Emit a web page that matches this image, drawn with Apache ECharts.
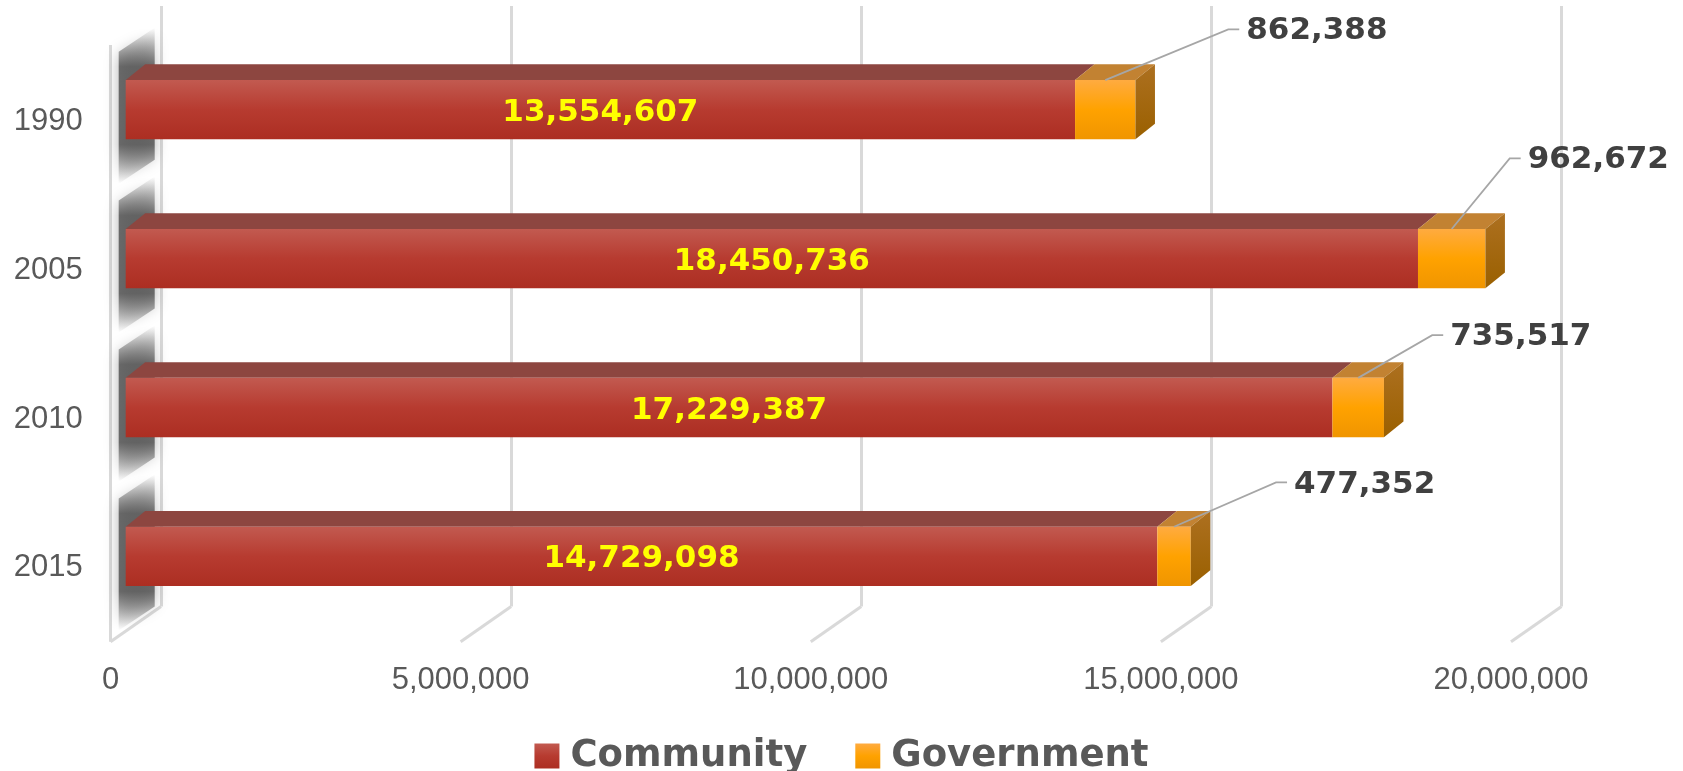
<!DOCTYPE html>
<html>
<head>
<meta charset="utf-8">
<script src="https://cdn.jsdelivr.net/npm/echarts@6/dist/echarts.min.js"></script>
<style>html,body{margin:0;padding:0;background:#fff}#c{width:1683px;height:771px}</style>
</head>
<body>
<div id="c"></div>
<script>
// ---- data ----
const years = ['1990', '2005', '2010', '2015'];
const community = [13554607, 18450736, 17229387, 14729098];
const government = [862388, 962672, 735517, 477352];
const xTicks = [0, 5000000, 10000000, 15000000, 20000000];
const xMin = 0, xMax = 20000000, xInterval = 5000000;

// ---- layout / style ----
const BAR_DEPTH = { dx: 19.5, dy: -15.7 };
const FLOOR = { dx: 50.5, dy: -35.4 };
const BAR_RATIO = 0.398;
const WALL_FRONT_TOP = 45;
const GOV_LABEL_OFF = [[123, -50.7], [58, -70.6], [74, -42.7], [102, -44.3]];
const NUM_FONT = 'DejaVu Sans';
const G = echarts.graphic;

const comFront = new G.LinearGradient(0, 0, 0, 1, [
  { offset: 0, color: '#c25a50' }, { offset: 0.5, color: '#b73b30' }, { offset: 1, color: '#ac2e22' }]);
const govFront = new G.LinearGradient(0, 0, 0, 1, [
  { offset: 0, color: '#ffab40' }, { offset: 0.5, color: '#ffa200' }, { offset: 1, color: '#f09500' }]);
const govSide = new G.LinearGradient(0, 0, 0, 1, [
  { offset: 0, color: '#ad7020' }, { offset: 1, color: '#9a6000' }]);

function barRender(kind) {
  return function (params, api) {
    const cat = api.value(0), s = api.value(1), e = api.value(2), v = api.value(3);
    const a = api.coord([s, cat]), b = api.coord([e, cat]);
    const h = api.size([0, 1])[1] * BAR_RATIO;
    const x0 = a[0], x1 = b[0], yT = a[1] - h / 2, yB = a[1] + h / 2;
    const dx = BAR_DEPTH.dx, dy = BAR_DEPTH.dy;
    const children = [];
    children.push({ type: 'polygon', shape: { points: [[x0, yT], [x1, yT], [x1 + dx, yT + dy], [x0 + dx, yT + dy]] },
      style: { fill: kind === 'com' ? '#8d4640' : '#c28232' } });
    children.push({ type: 'rect', shape: { x: x0, y: yT, width: x1 - x0, height: h },
      style: { fill: kind === 'com' ? comFront : govFront } });
    const fmt = v.toLocaleString('en-US');
    if (kind === 'gov') {
      children.push({ type: 'polygon', shape: { points: [[x1, yT], [x1 + dx, yT + dy], [x1 + dx, yB + dy], [x1, yB]] },
        style: { fill: govSide } });
      const ax = (x0 + x1) / 2, ay = yT;
      const off = GOV_LABEL_OFF[params.dataIndex];
      const ex = ax + off[0], ey = ay + off[1];
      children.push({ type: 'polyline', shape: { points: [[ax, ay], [ex, ey], [ex + 11, ey]] },
        style: { stroke: '#a6a6a6', lineWidth: 1.8, fill: null } });
      children.push({ type: 'text', style: { text: fmt, x: ex + 18, y: ey + 2, align: 'left', verticalAlign: 'middle',
        fill: '#404040', fontSize: 31, fontWeight: 'bold', fontFamily: NUM_FONT } });
    } else {
      children.push({ type: 'text', style: { text: fmt, x: (x0 + x1) / 2, y: a[1] + 3, align: 'center', verticalAlign: 'middle',
        fill: '#ffff00', fontSize: 31, fontWeight: 'bold', fontFamily: NUM_FONT } });
    }
    return { type: 'group', children };
  };
}

const shadowGrad = new G.LinearGradient(0, 0, 0, 1, [
  { offset: 0, color: 'rgba(90,90,90,0)' }, { offset: 0.25, color: 'rgba(85,85,85,0.85)' },
  { offset: 0.75, color: 'rgba(85,85,85,0.85)' }, { offset: 1, color: 'rgba(90,90,90,0)' }]);

const option = {
  animation: false,
  backgroundColor: '#ffffff',
  legend: {
    data: ['Community', 'Government'], left: 'center', top: 731, icon: 'rect',
    itemWidth: 25, itemHeight: 25, itemGap: 48,
    textStyle: { fontSize: 37, fontWeight: 'bold', fontFamily: NUM_FONT, color: '#595959', lineHeight: 40, padding: [0, 0, 0, 6] }
  },
  grid: [
    { left: 161, top: 6, width: 1400.7, height: 600.4 },
    { left: 125.7, top: 35.25, width: 1400.8, height: 595.6 },
    { left: 110.5, top: 6, width: 1400.5, height: 635.8 }
  ],
  xAxis: [
    { gridIndex: 0, type: 'value', min: xMin, max: xMax, interval: xInterval,
      axisLine: { show: false }, axisTick: { show: false }, axisLabel: { show: false },
      splitLine: { show: true, lineStyle: { color: '#d9d9d9', width: 3 } } },
    { gridIndex: 1, type: 'value', min: xMin, max: xMax, show: false },
    { gridIndex: 2, type: 'value', min: xMin, max: xMax, interval: xInterval,
      axisLine: { show: false }, axisTick: { show: false }, splitLine: { show: false },
      axisLabel: { margin: 23, color: '#595959', fontSize: 31, fontFamily: 'Liberation Sans',
        formatter: v => v.toLocaleString('en-US') } }
  ],
  yAxis: [
    { gridIndex: 0, type: 'value', show: false, splitLine: { show: false } },
    { gridIndex: 1, type: 'category', data: years, inverse: true,
      axisLine: { show: false }, axisTick: { show: false }, splitLine: { show: false },
      axisLabel: { margin: 43, color: '#595959', fontSize: 31, fontFamily: 'Liberation Sans',
        verticalAlign: 'top', lineHeight: 23 } },
    { gridIndex: 2, type: 'value', min: 0, max: 1, show: false, splitLine: { show: false } }
  ],
  series: [
    { type: 'custom', name: 'wall', xAxisIndex: 2, yAxisIndex: 2, silent: true, z: 1,
      data: xTicks.map(v => [v]),
      renderItem: function (params, api) {
        const p = api.coord([api.value(0), 0]);
        const ch = [{ type: 'line', shape: { x1: p[0], y1: p[1], x2: p[0] + FLOOR.dx, y2: p[1] + FLOOR.dy },
          style: { stroke: '#d9d9d9', lineWidth: 3 } }];
        if (params.dataIndex === 0) {
          ch.push({ type: 'line', shape: { x1: p[0], y1: p[1], x2: p[0], y2: WALL_FRONT_TOP },
            style: { stroke: '#d9d9d9', lineWidth: 3 } });
        }
        return { type: 'group', children: ch };
      } },
    { type: 'custom', name: 'shadow', xAxisIndex: 1, yAxisIndex: 1, silent: true, z: 2,
      data: years.map((y, i) => [i]),
      renderItem: function (params, api) {
        const p = api.coord([0, api.value(0)]);
        const xl = p[0] - 7, xr = p[0] + 29, cy = p[1];
        return { type: 'polygon', shape: { points: [[xl, cy - 58], [xr, cy - 82], [xr, cy + 50], [xl, cy + 74]] },
          style: { fill: shadowGrad, shadowBlur: 14, shadowColor: 'rgba(90,90,90,0.55)' } };
      } },
    { type: 'custom', name: 'Community', xAxisIndex: 1, yAxisIndex: 1, z: 3,
      itemStyle: { color: comFront },
      encode: { x: [1, 2], y: 0 },
      data: years.map((y, i) => [i, 0, community[i], community[i]]),
      renderItem: barRender('com') },
    { type: 'custom', name: 'Government', xAxisIndex: 1, yAxisIndex: 1, z: 4,
      itemStyle: { color: govFront },
      encode: { x: [1, 2], y: 0 },
      data: years.map((y, i) => [i, community[i], community[i] + government[i], government[i]]),
      renderItem: barRender('gov') }
  ]
};
const chart = echarts.init(document.getElementById('c'));
chart.setOption(option);
</script>
</body>
</html>
